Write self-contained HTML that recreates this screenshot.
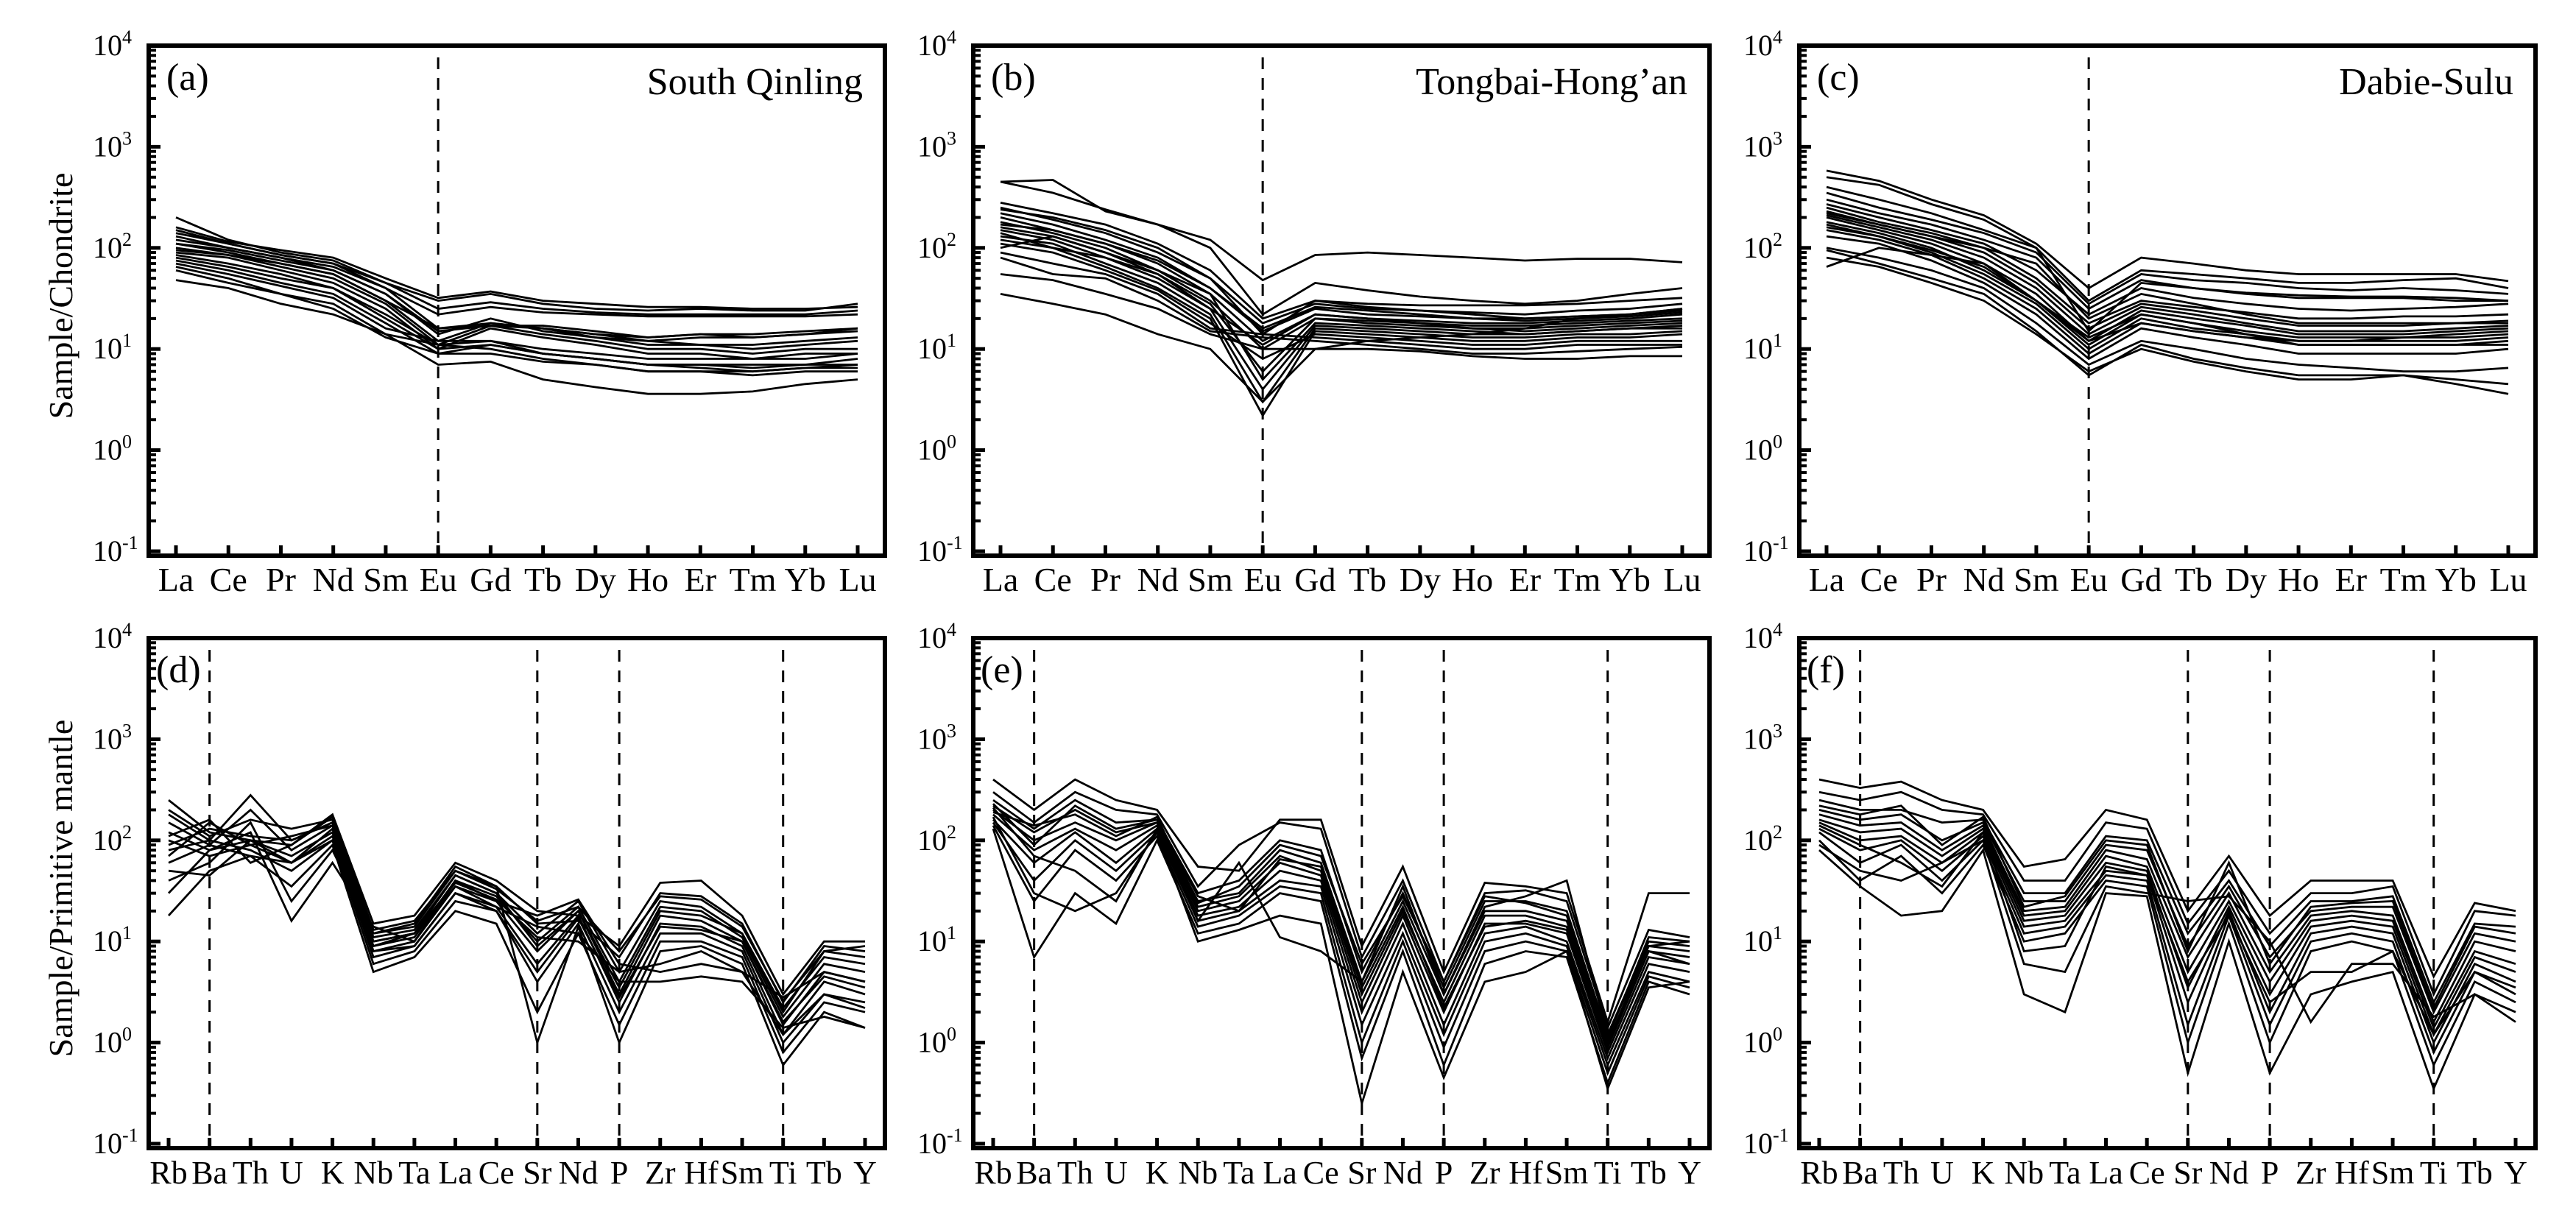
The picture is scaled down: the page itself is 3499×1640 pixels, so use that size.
<!DOCTYPE html>
<html><head><meta charset="utf-8"><style>
html,body{margin:0;padding:0;background:#fff;}
svg{display:block;}
text{font-family:"Liberation Serif",serif;fill:#000;}
</style></head><body>
<svg id="fig" width="3499" height="1640" viewBox="0 0 3499 1640" xmlns="http://www.w3.org/2000/svg"></svg>
<script>
// ---- data ----
const reeCats = ["La","Ce","Pr","Nd","Sm","Eu","Gd","Tb","Dy","Ho","Er","Tm","Yb","Lu"];
const spiderCats = ["Rb","Ba","Th","U","K","Nb","Ta","La","Ce","Sr","Nd","P","Zr","Hf","Sm","Ti","Tb","Y"];
const yTickExps = [4,3,2,1,0,-1];
const reeDashed = ["Eu"];
const spiderDashed = ["Ba","Sr","P","Ti"];

const seriesA = [
[200,120,90,75,45,30,35,28,25,24,25,24,24,28],
[160,115,95,80,50,32,37,30,28,26,26,25,25,26],
[140,110,85,70,45,25,29,25,23,22,22,22,22,24],
[120,100,80,65,40,22,26,23,22,21,21,21,21,22],
[150,110,85,70,40,16,18,16,14,13,14,14,15,16],
[130,100,80,60,35,15,17,16,14,12,13,13,14,15],
[110,90,70,55,30,12,18,16,13,11,11,10,11,12],
[100,85,65,50,28,11,17,14,12,10,10,9,10,10],
[90,80,60,45,25,10,16,13,11,9,9,8,9,9],
[85,70,55,40,22,11,12,10,9,8,8,8,8,9],
[80,65,50,40,20,10,11,9,8,7,7,7,7,8],
[75,60,45,35,18,9,11,9,8,7,7,6.5,7,7],
[70,55,42,32,16,12,12,9,8,7,6.5,6,6.5,7],
[65,50,35,28,14,11,10,8,7,6,6,6,6.5,6.5],
[60,45,35,25,13,9,9,7.5,7,6,6,5.5,6,6],
[48,40,28,22,14,7,7.5,5,4.2,3.6,3.6,3.8,4.5,5],
[95,85,70,55,30,16,17,17,15,13,14,13,14,16],
[110,95,75,60,35,14,20,15,13,12,11,11,12,13]
];
const seriesB = [
[450,470,230,170,120,48,85,90,85,80,75,78,78,72],
[450,350,240,170,100,22,45,38,33,30,28,30,35,40],
[280,220,170,110,60,20,30,28,27,27,27,28,30,32],
[250,190,140,90,50,18,28,25,24,23,22,24,25,28],
[220,170,120,80,40,15,25,22,21,20,20,21,22,24],
[200,150,110,70,35,12,22,20,19,18,18,19,20,22],
[180,140,100,60,30,10,20,18,17,16,16,17,18,19],
[160,130,90,55,28,6,20,19,18,16,15,16,17,18],
[150,120,80,50,25,4,17,16,15,14,14,15,16,16],
[130,110,70,45,22,3,16,15,14,13,13,14,14,15],
[120,100,65,40,20,2.2,15,14,13,12,12,13,13,14],
[110,90,60,38,18,8,14,13,12,11,11,12,12,12],
[90,70,55,35,16,14,13,12,11,10,10,11,11,11],
[80,55,50,30,15,13,12,11,10,9,9,9.5,10,10.5],
[55,48,35,25,14,10,10,10,9.5,8.5,8,8,8.5,8.5],
[35,28,22,14,10,3,10,12,13,14,16,20,22,25],
[170,150,110,75,40,16,26,24,22,20,19,20,21,23],
[240,200,150,100,50,14,30,26,24,22,20,21,22,25],
[100,130,90,60,35,5,18,17,16,15,14,15,16,17],
[140,100,80,55,25,11,22,20,18,17,17,18,19,20]
];
const seriesC = [
[580,460,300,210,110,40,80,70,60,55,55,55,55,47],
[500,420,270,190,100,30,60,55,50,45,45,48,50,40],
[350,250,190,140,90,28,55,48,45,40,38,40,38,35],
[300,220,170,120,80,25,48,40,35,32,32,32,30,30],
[270,200,150,110,60,22,40,32,28,25,24,25,26,28],
[250,180,140,100,50,18,30,26,23,20,20,21,21,22],
[230,170,130,90,45,16,28,24,20,17,17,17,18,19],
[210,160,120,80,40,14,26,22,18,15,15,15,16,17],
[200,150,110,70,35,12,24,20,17,14,14,14,15,16],
[180,140,100,60,30,11,22,18,15,13,13,13,14,15],
[160,130,90,55,28,10,20,16,14,12,12,12,12,13],
[150,120,85,50,25,9,18,15,13,11,11,11,11,11],
[130,110,75,45,22,8,16,13,11,9,9,9,9,10],
[100,80,60,40,18,7,12,10,8,7,6.5,6,6,6.5],
[95,70,50,35,15,5.5,11,8,6.5,5.5,5.5,5.5,5,4.5],
[80,65,45,30,14,6,10,7.5,6,5,5,5.5,4.5,3.6],
[65,100,85,70,30,12,18,15,13,12,12,13,13,14],
[220,170,130,100,70,20,35,28,22,18,18,18,18,18],
[400,300,220,150,100,15,45,40,36,34,33,33,32,30],
[170,130,95,65,30,13,22,18,14,11,11,11,11,12]
];
const seriesD = [
[250,120,100,90,180,15,18,60,40,20,18,9,38,40,18,3,10,10],
[200,110,160,130,160,12,14,50,35,15,16,7,30,28,15,2.5,9,8],
[180,100,280,100,150,10,12,45,30,12,25,5,25,22,12,2,8,7],
[150,90,200,80,140,9,11,40,28,10,22,4,22,20,11,1.8,6,5],
[120,80,100,70,120,8,10,35,25,8,20,3,18,16,10,1.5,5,4],
[100,70,90,60,110,7,9,30,22,6,18,2.5,15,14,9,1.2,4,3],
[80,100,80,50,100,6,8,25,20,4,15,2,12,12,8,1,3,2.5],
[60,90,70,35,90,5,7,20,15,2,12,1.5,10,10,7,0.8,2.5,2],
[40,60,150,25,80,12,15,55,35,1,14,1,8,9,6,0.6,2,1.4],
[30,80,120,16,60,14,10,40,25,18,26,6,5,6,5,2.8,5,4],
[18,50,70,60,130,10,12,35,22,14,12,4,4,4.5,4,1.4,1.8,1.4],
[90,130,110,100,150,11,13,45,30,9,20,3.5,20,18,12,2.2,7,6],
[70,150,90,110,140,8,9,30,20,5,17,2.8,14,13,10,1.6,4.5,3.5],
[110,160,60,90,170,13,16,50,33,16,22,8,28,26,14,2.6,8,9],
[50,45,100,60,100,9,12,38,26,11,10,5,6,8,5,1.2,3,2.2]
];
const seriesE = [
[400,200,400,250,200,55,50,160,160,9,55,5,38,35,30,1.6,30,30],
[300,150,300,200,180,35,90,150,130,7,40,4,30,32,25,1.4,13,11],
[250,130,250,150,160,30,40,100,80,5,30,3.5,25,25,20,1.2,10,9],
[220,120,200,120,150,25,30,80,60,4,25,3,20,20,16,1,9,8],
[200,100,150,100,150,22,28,70,50,3,20,2.5,18,18,14,0.9,8,7],
[180,80,130,80,140,20,25,60,45,2.5,18,2,15,15,12,0.8,7,6],
[160,60,120,60,130,18,22,50,40,2,15,1.5,12,14,10,0.7,6,5],
[150,40,100,50,120,16,20,40,35,1.5,12,1.2,10,12,9,0.6,5,4],
[140,25,80,40,110,14,18,35,30,1,10,0.9,8,10,8,0.5,4.5,3.5],
[130,7,30,15,100,12,15,30,25,0.7,8,0.6,6,8,7,0.4,4,3],
[170,30,20,30,120,10,13,18,15,0.25,5,0.45,4,5,8,0.35,3.5,4],
[210,70,50,25,130,16,60,11,8,4,35,3,22,28,40,1.2,9,10],
[190,140,180,110,170,24,35,90,70,6,28,4,28,24,18,1.1,11,10],
[230,90,220,130,160,28,20,65,55,3.5,22,2.2,14,16,13,0.9,8,6]
];
const seriesF = [
[400,330,380,250,200,55,65,200,160,20,70,18,40,40,40,4.5,24,20],
[300,250,300,200,180,40,40,150,130,15,50,12,30,30,35,3,20,18],
[250,200,200,150,160,30,30,110,100,12,40,9,25,25,28,2.5,15,14],
[200,160,180,100,150,25,25,90,80,9,35,7,20,22,22,2,12,10],
[180,140,150,80,140,20,22,80,65,7,30,5,18,20,18,1.6,10,8],
[160,120,130,70,130,18,20,70,55,5,25,4,16,18,16,1.4,8,6],
[150,100,110,60,120,16,18,60,50,3.5,22,3,14,16,14,1.2,7,5],
[130,80,100,50,110,14,16,50,45,2.5,20,2,12,14,12,1,6,4],
[120,60,90,40,100,12,14,45,40,1.5,18,1.5,10,12,10,0.8,5,3],
[100,40,70,30,90,10,12,40,35,1,15,1,8,10,8,0.6,4,2.5],
[80,35,18,20,80,3,2,30,28,0.5,10,0.5,3,4,5,0.35,3,1.6],
[90,50,40,60,100,6,5,35,30,25,28,10,1.6,6,6,1.8,3,2],
[220,180,220,90,170,22,28,100,90,8,60,6,22,24,25,2.2,14,12],
[140,90,60,35,120,8,9,55,45,4,18,2.5,5,5,8,1.2,5,3.5]
];

// ---- drawing ----
const NS = "http://www.w3.org/2000/svg";
const svg = document.getElementById('fig');
function mk(tag, attrs, parent){
  const e = document.createElementNS(NS, tag);
  for (const k in attrs) e.setAttribute(k, attrs[k]);
  (parent||svg).appendChild(e);
  return e;
}

function panel(cfg){
  const g = mk('g', {});
  
  
  const L = cfg.left, R = cfg.left + 1000, T = cfg.top, B = cfg.top + 693;
  const dec = 137.4;
  const yOf = v => T + (4 - Math.log10(v)) * dec;
  const n = cfg.cats.length;
  const x0 = L + cfg.pad, x1 = R - cfg.padR;
  const xOf = i => x0 + (x1 - x0) * i / (n - 1);

  cfg.dashed.forEach(c => {
    const i = cfg.cats.indexOf(c);
    const d = mk('line', {x1:xOf(i), x2:xOf(i), y1:T+16, y2:B, stroke:'#000', 'stroke-width':3, 'stroke-dasharray':'16 12'}, g);
    
    
  });

  cfg.series.forEach((s, k) => {
    const pts = s.map((v, i) => xOf(i).toFixed(1) + ',' + yOf(v).toFixed(1)).join(' ');
    const p = mk('polyline', {points:pts, fill:'none', stroke:'#000', 'stroke-width':2.8, 'stroke-linejoin':'miter'}, g);
    
    
  });

  for (let e = 4; e >= -1; e--) {
    mk('line', {x1:L, x2:L+16, y1:yOf(Math.pow(10,e)), y2:yOf(Math.pow(10,e)), stroke:'#000', 'stroke-width':5}, g);
    if (e > -1) {
      for (let m = 2; m <= 9; m++) {
        const y = yOf(m * Math.pow(10, e-1));
        mk('line', {x1:L, x2:L+10, y1:y, y2:y, stroke:'#000', 'stroke-width':4}, g);
      }
    }
  }
  yTickExps.forEach(e => {
    const y = yOf(Math.pow(10, e));
    const t = mk('text', {x:L-36, y:y+13, 'font-size':40, 'text-anchor':'end'}, g);
    t.textContent = '10';
    
    
    const sup = mk('text', {x:L-36, y:y-3, 'font-size':26, 'text-anchor':'start'}, g);
    sup.textContent = String(e);
    
    
  });

  cfg.cats.forEach((c, i) => {
    mk('line', {x1:xOf(i), x2:xOf(i), y1:B, y2:B-14, stroke:'#000', 'stroke-width':5}, g);
    const t = mk('text', {x:xOf(i), y:B+48, 'font-size':cfg.labelSize, 'text-anchor':'middle'}, g);
    t.textContent = c;
    
    
  });

  const f = mk('rect', {x:L, y:T, width:1000, height:693, fill:'none', stroke:'#000', 'stroke-width':6}, g);
  
  

  const lt = mk('text', {x:L+cfg.letterDx, y:T+60, 'font-size':52}, g);
  lt.textContent = '(' + cfg.letter + ')';
  
  

  if (cfg.title) {
    const tt = mk('text', {x:R-30, y:T+66, 'font-size':52, 'text-anchor':'end'}, g);
    tt.textContent = cfg.title;
    
    
  }
  if (cfg.ytitle) {
    const yt = mk('text', {x:0, y:0, 'font-size':46, 'text-anchor':'middle', transform:'translate(98,' + (T+340) + ') rotate(-90)'}, g);
    yt.textContent = cfg.ytitle;
    
    
  }
}

const lefts = [202, 1322, 2444];
panel({letter:'a', left:lefts[0], top:62, cats:reeCats, series:seriesA, dashed:reeDashed, pad:37, padR:37, labelSize:46, letterDx:24, title:'South Qinling', ytitle:'Sample/Chondrite'});
panel({letter:'b', left:lefts[1], top:62, cats:reeCats, series:seriesB, dashed:reeDashed, pad:37, padR:37, labelSize:46, letterDx:24, title:'Tongbai-Hong\u2019an'});
panel({letter:'c', left:lefts[2], top:62, cats:reeCats, series:seriesC, dashed:reeDashed, pad:37, padR:37, labelSize:46, letterDx:24, title:'Dabie-Sulu'});
panel({letter:'d', left:lefts[0], top:867, cats:spiderCats, series:seriesD, dashed:spiderDashed, pad:27, padR:27, labelSize:44, letterDx:10, ytitle:'Sample/Primitive mantle'});
panel({letter:'e', left:lefts[1], top:867, cats:spiderCats, series:seriesE, dashed:spiderDashed, pad:27, padR:27, labelSize:44, letterDx:10});
panel({letter:'f', left:lefts[2], top:867, cats:spiderCats, series:seriesF, dashed:spiderDashed, pad:27, padR:27, labelSize:44, letterDx:10});
</script>
</body></html>
